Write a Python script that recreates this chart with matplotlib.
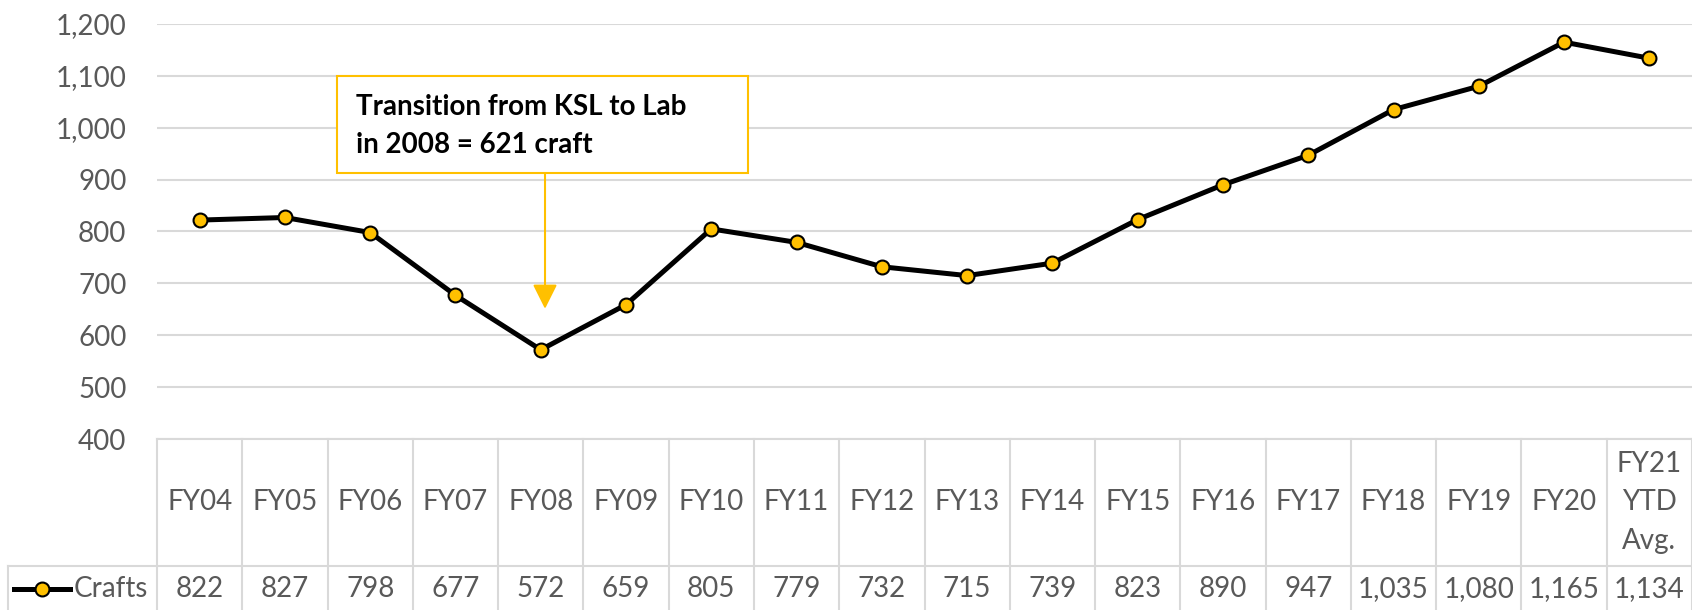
import matplotlib.pyplot as plt
from matplotlib.transforms import blended_transform_factory
from matplotlib.lines import Line2D
from matplotlib.patches import Rectangle

# Datos del grafico
years = ['FY04', 'FY05', 'FY06', 'FY07', 'FY08', 'FY09', 'FY10', 'FY11', 'FY12',
         'FY13', 'FY14', 'FY15', 'FY16', 'FY17', 'FY18', 'FY19', 'FY20', 'FY21\nYTD\nAvg.']
crafts = [822, 827, 798, 677, 572, 659, 805, 779, 732, 715, 739, 823, 890, 947,
          1035, 1080, 1165, 1134]
y_ticks = [400, 500, 600, 700, 800, 900, 1000, 1100, 1200]
note_lines = ['Transition from KSL to Lab', 'in 2008 = 621 craft']
arrow_value = 651

W, H = 1692, 610
gold = '#FFC000'
grid_c = '#D9D9D9'
txt_c = '#595959'
fs = 20
plt.rcParams['font.family'] = ['Lato', 'DejaVu Sans']

fig = plt.figure(figsize=(W / 100, H / 100), dpi=100)
ax = fig.add_axes([157 / W, 1 - 439 / H, 1 - 157 / W, (439 - 24) / H])

xs = [i + 0.5 for i in range(len(crafts))]
ax.plot(xs, crafts, color='black', lw=3.6, marker='o', ms=10,
        markerfacecolor=gold, markeredgecolor='black', markeredgewidth=1.5,
        zorder=3)

ax.set_xlim(0, len(crafts))
ax.set_ylim(400, 1200)
ax.set_yticks(y_ticks)
ax.set_yticklabels([f'{v:,}' for v in y_ticks], fontsize=fs, color=txt_c)
ax.tick_params(axis='y', length=0, pad=22)
ax.set_xticks([])
ax.grid(axis='y', color=grid_c, lw=1.5)
ax.set_axisbelow(True)
for s in ax.spines.values():
    s.set_visible(False)

def fy(py):
    return 1 - py / H

# Anotacion: caja, texto y flecha
fig.add_artist(Rectangle((337 / W, fy(173)), (748 - 337) / W, (173 - 76) / H,
                         transform=fig.transFigure, fc='white', ec=gold, lw=1.5, zorder=4))
for line, py in zip(note_lines, [115, 153]):
    fig.text(356 / W, fy(py), line, fontsize=fs, fontweight='bold', color='black',
             ha='left', va='baseline', zorder=5)
tr = blended_transform_factory(ax.transData, fig.transFigure)
ax.annotate('', xy=(4.55, arrow_value), xycoords='data',
            xytext=(4.55, fy(173)), textcoords=tr,
            arrowprops=dict(arrowstyle='-|>,head_length=0.6,head_width=0.3',
                            color=gold, lw=1.5, mutation_scale=25,
                            shrinkA=0, shrinkB=0))

# Tabla de datos debajo del grafico
n = len(crafts)
fig.add_artist(Line2D([0, n], [fy(439), fy(439)], transform=tr, color=grid_c, lw=1.5, clip_on=False))
fig.add_artist(Line2D([8 / W, 1], [fy(566), fy(566)], transform=fig.transFigure, color=grid_c, lw=1.5))
fig.add_artist(Line2D([8 / W, 8 / W], [fy(566), 0], transform=fig.transFigure, color=grid_c, lw=1.5))
for i in range(n + 1):
    fig.add_artist(Line2D([i, i], [fy(439), 0], transform=tr, color=grid_c, lw=1.5, clip_on=False))

for x, lab, v in zip(xs, years, crafts):
    parts = lab.split('\n')
    mid = (len(parts) - 1) / 2
    for k, p in enumerate(parts):
        fig.text(x, fy(502 + (k - mid) * 38.5), p, transform=tr, ha='center',
                 va='center', fontsize=fs, color=txt_c)
    fig.text(x, fy(589), f'{v:,}', transform=tr, ha='center', va='center',
             fontsize=fs, color=txt_c)

fig.add_artist(Line2D([14 / W, 70 / W], [fy(589), fy(589)], transform=fig.transFigure,
                      color='black', lw=3.6))
fig.add_artist(Line2D([42 / W], [fy(589)], transform=fig.transFigure, lw=0,
                      marker='o', ms=10, markerfacecolor=gold,
                      markeredgecolor='black', markeredgewidth=1.5))
fig.text(74 / W, fy(589), 'Crafts', ha='left', va='center', fontsize=fs, color=txt_c)

fig.savefig('out.png', dpi=100)
